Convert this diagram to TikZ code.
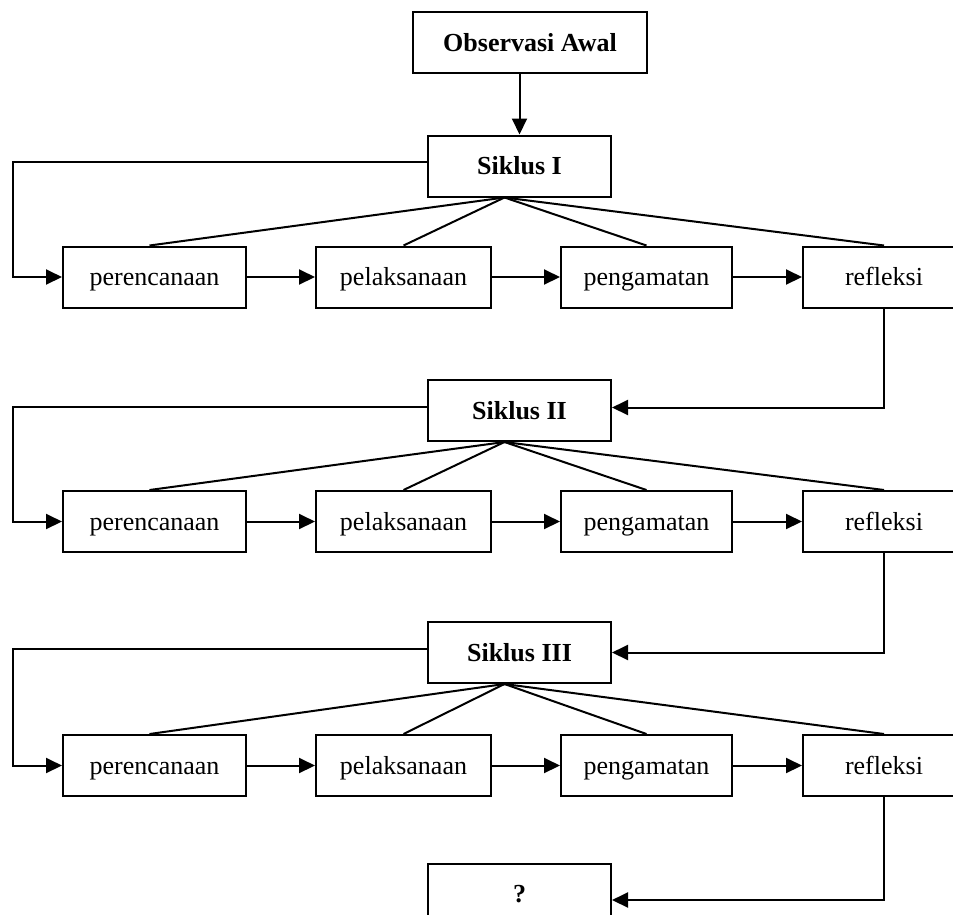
\documentclass[tikz,border=0pt]{standalone}
\usepackage{fontspec}
\setmainfont{Liberation Serif}
\usetikzlibrary{arrows.meta}
\begin{document}
\begin{tikzpicture}[x=1pt,y=-1pt,
  line width=2pt,
  box/.style={draw, line width=2pt, inner sep=0pt, minimum height=61pt, text height=21pt, text depth=4pt, font=\fontsize{26}{30}\selectfont},
  hbox/.style={box, font=\fontsize{26}{30}\selectfont\bfseries},
  arr/.style={line width=2pt, -{Triangle[length=16pt,width=15pt]}},
  fan/.style={line width=2pt}]
\clip (0,0) rectangle (953,914);
\fill[white] (0,0) rectangle (953,914);

\node[hbox, minimum width=234pt] (obs) at (530,42.5) {Observasi Awal};
\node[hbox, minimum width=183pt] (s1) at (519.5,166) {Siklus I};
\node[hbox, minimum width=183pt] (s2) at (519.5,410.5) {Siklus II};
\node[hbox, minimum width=183pt] (s3) at (519.5,652.5) {Siklus III};
\node[hbox, minimum width=183pt] (q) at (519.5,894) {?};

\foreach \r/\y in {1/277,2/521.5,3/765.5}{
  \node[box, minimum width=183pt] (a\r) at (154.5,\y) {perencanaan};
  \node[box, minimum width=175pt] (b\r) at (403.5,\y) {pelaksanaan};
  \node[box, minimum width=171pt] (c\r) at (646.5,\y) {pengamatan};
  \node[box, minimum width=162pt] (d\r) at (884,\y) {refleksi};
  \draw[arr] (a\r.east) -- (b\r.west);
  \draw[arr] (b\r.east) -- (c\r.west);
  \draw[arr] (c\r.east) -- (d\r.west);
}

\draw[arr] (obs.south -| s1.north) -- (s1.north);

\foreach \r in {1,2,3}{
  \draw[arr] ([yshift=4pt]s\r.west) -- ([yshift=4pt]s\r.west -| 13,0) |- (a\r.west);
  \coordinate (apex\r) at ([xshift=-15pt]s\r.south);
  \draw[fan] (apex\r) -- ([xshift=-5pt]a\r.north);
  \draw[fan] (apex\r) -- (b\r.north);
  \draw[fan] (apex\r) -- (c\r.north);
  \draw[fan] (apex\r) -- (d\r.north);
}

\draw[arr] (d1.south) |- ([yshift=3pt]s2.east);
\draw[arr] (d2.south) |- (s3.east);
\draw[arr] (d3.south) |- ([yshift=-6pt]q.east);
\end{tikzpicture}
\end{document}
